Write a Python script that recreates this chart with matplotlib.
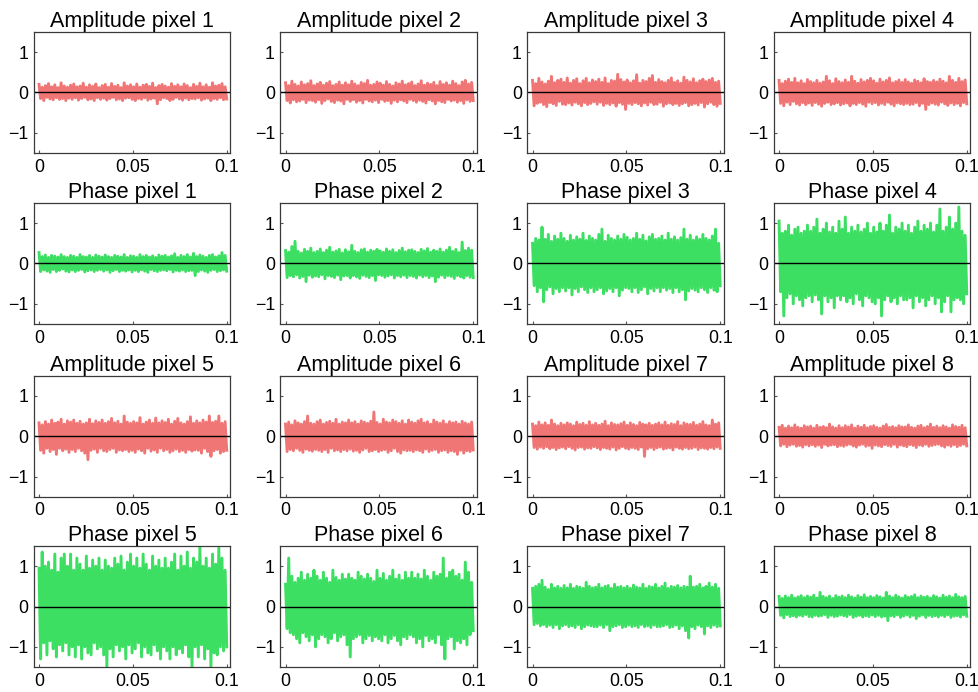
import numpy as np
import matplotlib
matplotlib.use("Agg")
import matplotlib.pyplot as plt

plt.rcParams["font.family"] = ["Liberation Sans", "DejaVu Sans"]

# peak / trough values (alternating), 0 .. 0.1 s
amp1 = [.2, -.15, .13, -.2, .17, -.12, .22, -.16, .14, -.18, .19, -.13, .12, -.17, .24, -.15, .16, -.2, .13, -.14,
        .18, -.17, .21, -.13, .14, -.19, .16, -.15, .23, -.12, .13, -.18, .19, -.16, .15, -.2, .21, -.13, .12, -.17,
        .17, -.14, .2, -.19, .13, -.15, .22, -.12, .15, -.18, .18, -.16, .12, -.2, .24, -.14, .16, -.13, .19, -.17,
        .14, -.2, .21, -.15, .13, -.17, .18, -.13, .2, -.19, .15, -.16, .23, -.14, .12, -.28, .17, -.18, .2, -.13,
        .16, -.15, .13, -.2, .22, -.17, .15, -.12, .19, -.16, .14, -.19, .21, -.14, .17, -.18, .12, -.15, .2, -.16,
        .15, -.13, .23, -.19, .14, -.16, .19, -.14, .13, -.2, .24, -.15, .16, -.17, .18, -.13, .22, -.18, .14, -.16]
amp2 = [.24, -.2, .17, -.26, .28, -.18, .2, -.23, .16, -.21, .26, -.17, .19, -.25, .22, -.19, .29, -.2, .17, -.24,
        .21, -.18, .25, -.27, .18, -.2, .23, -.16, .27, -.22, .17, -.25, .2, -.19, .26, -.21, .18, -.28, .24, -.17,
        .19, -.22, .28, -.18, .21, -.24, .17, -.2, .25, -.26, .22, -.17, .3, -.21, .18, -.23, .2, -.19, .26, -.25,
        .23, -.17, .18, -.22, .27, -.2, .2, -.27, .16, -.19, .24, -.23, .21, -.18, .28, -.21, .19, -.25, .22, -.17,
        .26, -.2, .17, -.24, .21, -.19, .29, -.22, .18, -.26, .23, -.18, .2, -.21, .25, -.28, .17, -.2, .27, -.23,
        .2, -.25, .24, -.17, .18, -.21, .28, -.19, .22, -.24, .17, -.2, .26, -.27, .3, -.18, .21, -.22, .25, -.2]
amp3 = [.3, -.33, .22, -.27, .35, -.24, .26, -.3, .21, -.35, .28, -.25, .4, -.28, .24, -.32, .3, -.22, .33, -.29,
        .25, -.3, .36, -.26, .23, -.31, .3, -.24, .34, -.28, .22, -.33, .29, -.25, .35, -.3, .24, -.27, .31, -.23,
        .27, -.29, .33, -.24, .25, -.32, .36, -.27, .22, -.3, .3, -.26, .28, -.34, .45, -.25, .32, -.29, .26, -.42,
        .31, -.27, .24, -.3, .29, -.25, .44, -.28, .23, -.33, .3, -.26, .27, -.31, .35, -.24, .42, -.3, .25, -.29,
        .32, -.24, .27, -.34, .24, -.28, .3, -.26, .36, -.3, .25, -.27, .29, -.32, .23, -.28, .38, -.25, .3, -.33,
        .26, -.3, .34, -.27, .24, -.31, .29, -.25, .33, -.36, .27, -.28, .31, -.24, .35, -.3, .25, -.34, .28, -.27]
amp4 = [.3, -.27, .22, -.33, .28, -.24, .33, -.3, .25, -.22, .35, -.28, .24, -.31, .29, -.25, .22, -.3, .32, -.26,
        .27, -.32, .24, -.25, .3, -.29, .23, -.34, .26, -.27, .4, -.24, .29, -.3, .22, -.28, .34, -.25, .27, -.31,
        .24, -.28, .31, -.26, .25, -.33, .4, -.27, .28, -.3, .23, -.25, .32, -.29, .26, -.34, .3, -.24, .35, -.28,
        .29, -.25, .23, -.31, .33, -.27, .26, -.3, .3, -.24, .36, -.29, .24, -.33, .27, -.26, .31, -.28, .25, -.3,
        .32, -.27, .26, -.3, .23, -.29, .31, -.25, .28, -.33, .24, -.27, .34, -.42, .27, -.3, .25, -.26, .3, -.29,
        .26, -.31, .33, -.24, .28, -.28, .24, -.32, .4, -.26, .3, -.3, .25, -.27, .35, -.33, .27, -.25, .31, -.28]
amp5 = [.33, -.35, .28, -.42, .36, -.3, .3, -.38, .4, -.33, .32, -.45, .35, -.3, .42, -.36, .3, -.32, .38, -.4,
        .35, -.33, .4, -.38, .32, -.3, .37, -.36, .3, -.42, .33, -.58, .42, -.35, .31, -.32, .38, -.4, .34, -.3,
        .4, -.36, .32, -.38, .36, -.33, .44, -.3, .33, -.4, .37, -.34, .3, -.36, .5, -.33, .35, -.38, .32, -.35,
        .36, -.4, .33, -.32, .46, -.36, .3, -.42, .35, -.3, .4, -.37, .32, -.34, .45, -.4, .33, -.3, .38, -.36,
        .34, -.33, .42, -.4, .3, -.36, .37, -.32, .44, -.38, .33, -.35, .3, -.4, .36, -.33, .48, -.37, .32, -.34,
        .38, -.35, .33, -.42, .4, -.3, .35, -.38, .5, -.5, .34, -.36, .37, -.33, .5, -.42, .32, -.38, .36, -.35]
amp6 = [.3, -.38, .35, -.33, .28, -.36, .38, -.3, .33, -.35, .3, -.4, .36, -.32, .5, -.35, .32, -.37, .3, -.33,
        .36, -.35, .4, -.38, .3, -.33, .34, -.4, .37, -.3, .32, -.36, .42, -.34, .3, -.38, .35, -.33, .33, -.36,
        .4, -.32, .33, -.37, .36, -.35, .3, -.4, .38, -.34, .35, -.3, .32, -.38, .37, -.36, .6, -.33, .34, -.38,
        .3, -.35, .42, -.33, .35, -.4, .33, -.36, .4, -.3, .36, -.38, .32, -.42, .38, -.34, .3, -.36, .4, -.35,
        .35, -.38, .32, -.34, .38, -.36, .42, -.4, .33, -.32, .36, -.38, .3, -.35, .4, -.33, .35, -.4, .32, -.36,
        .38, -.34, .3, -.4, .36, -.36, .33, -.38, .35, -.45, .3, -.35, .37, -.42, .33, -.36, .3, -.38, .35, -.34]
amp7 = [.3, -.28, .26, -.32, .35, -.27, .28, -.3, .33, -.26, .27, -.31, .4, -.28, .3, -.33, .26, -.29, .32, -.27,
        .28, -.31, .33, -.26, .3, -.3, .26, -.34, .35, -.28, .29, -.27, .32, -.32, .27, -.29, .36, -.3, .28, -.26,
        .32, -.29, .27, -.33, .3, -.28, .37, -.3, .26, -.32, .33, -.27, .29, -.34, .28, -.3, .31, -.26, .35, -.3,
        .27, -.32, .33, -.28, .29, -.3, .26, -.33, .34, -.27, .3, -.5, .28, -.31, .32, -.28, .27, -.33, .3, -.29,
        .33, -.27, .28, -.32, .35, -.3, .27, -.29, .31, -.34, .29, -.27, .36, -.3, .26, -.32, .33, -.28, .3, -.31,
        .29, -.3, .34, -.27, .27, -.33, .3, -.29, .36, -.3, .28, -.32, .26, -.28, .4, -.31, .3, -.27, .33, -.3]
amp8 = [.22, -.24, .27, -.2, .2, -.26, .25, -.22, .21, -.2, .28, -.25, .22, -.23, .2, -.27, .26, -.21, .23, -.24,
        .25, -.21, .2, -.25, .27, -.22, .22, -.28, .24, -.2, .21, -.24, .3, -.22, .23, -.21, .2, -.26, .26, -.23,
        .21, -.25, .26, -.22, .23, -.2, .28, -.24, .2, -.27, .25, -.22, .22, -.2, .27, -.25, .21, -.23, .24, -.3,
        .26, -.22, .22, -.24, .2, -.26, .25, -.21, .29, -.23, .22, -.25, .24, -.2, .21, -.27, .26, -.22, .23, -.24,
        .23, -.26, .28, -.21, .22, -.23, .2, -.28, .25, -.22, .27, -.24, .21, -.2, .24, -.25, .3, -.23, .22, -.21,
        .25, -.2, .21, -.24, .26, -.27, .23, -.22, .2, -.25, .28, -.21, .24, -.26, .22, -.23, .27, -.2, .21, -.24]

ph1 = [.27, -.2, .17, -.16, .21, -.19, .15, -.22, .2, -.15, .18, -.2, .16, -.17, .22, -.14, .17, -.19, .15, -.21,
       .2, -.16, .18, -.2, .15, -.17, .22, -.15, .17, -.21, .16, -.18, .2, -.16, .15, -.2, .21, -.17, .18, -.15,
       .16, -.19, .21, -.16, .17, -.22, .15, -.18, .2, -.15, .18, -.2, .16, -.17, .22, -.19, .15, -.16, .19, -.21,
       .18, -.17, .15, -.2, .22, -.16, .17, -.19, .2, -.22, .16, -.15, .19, -.18, .15, -.2, .21, -.17, .18, -.16,
       .2, -.18, .16, -.15, .19, -.21, .24, -.17, .15, -.19, .2, -.16, .17, -.2, .22, -.18, .16, -.17, .25, -.3,
       .17, -.2, .21, -.16, .18, -.19, .15, -.22, .2, -.17, .22, -.15, .16, -.2, .19, -.18, .27, -.16, .2, -.19]
ph2 = [.32, -.35, .28, -.3, .42, -.33, .55, -.28, .3, -.36, .26, -.32, .35, -.45, .3, -.29, .38, -.34, .27, -.31,
       .3, -.33, .36, -.28, .27, -.38, .33, -.3, .4, -.32, .28, -.35, .31, -.29, .35, -.4, .26, -.31, .34, -.3,
       .29, -.36, .45, -.3, .3, -.33, .27, -.37, .34, -.29, .36, -.32, .28, -.35, .33, -.3, .3, -.42, .35, -.28,
       .31, -.3, .28, -.34, .36, -.31, .3, -.28, .34, -.36, .27, -.3, .32, -.33, .38, -.29, .29, -.35, .33, -.3,
       .34, -.32, .3, -.36, .27, -.29, .35, -.33, .31, -.3, .37, -.35, .28, -.31, .33, -.45, .3, -.34, .36, -.29,
       .28, -.35, .33, -.3, .4, -.32, .3, -.37, .35, -.3, .27, -.33, .53, -.36, .32, -.3, .38, -.34, .33, -.35]
ph3 = [.5, -.55, .62, -.7, .58, -.6, .9, -.95, .6, -.65, .72, -.58, .55, -.75, .68, -.62, .6, -.7, .75, -.6,
       .62, -.68, .55, -.6, .7, -.78, .58, -.62, .66, -.7, .6, -.58, .75, -.65, .57, -.72, .68, -.6, .62, -.7,
       .58, -.65, .72, -.6, .85, -.75, .55, -.68, .7, -.62, .62, -.7, .58, -.6, .68, -.8, .6, -.66, .72, -.6,
       .65, -.62, .58, -.7, .62, -.6, .75, -.72, .6, -.65, .7, -.58, .56, -.75, .66, -.62, .72, -.68, .6, -.6,
       .62, -.7, .68, -.6, .58, -.66, .75, -.62, .6, -.72, .66, -.6, .58, -.7, .64, -.65, .85, -.9, .6, -.68,
       .7, -.62, .58, -.66, .66, -.7, .6, -.6, .72, -.65, .62, -.72, .58, -.6, .68, -.66, .85, -.7, .5, -.55]
ph4 = [1.05, -.7, .75, -1.3, .8, -.85, .95, -.75, .7, -1.0, .85, -.8, .9, -.9, .75, -1.05, .8, -.85, .95, -.8,
       .8, -.95, .9, -.78, 1.1, -.9, .75, -1.25, .85, -.8, 1.0, -.95, .78, -.85, .9, -1.1, .75, -.8, 1.05, -.9,
       .85, -.8, 1.15, -.95, .75, -.85, .9, -1.0, .8, -.75, .95, -.9, .78, -1.05, .85, -.8, 1.0, -.85, .75, -.95,
       .9, -1.0, .78, -.85, 1.0, -1.3, .8, -.9, .95, -.8, 1.2, -.95, .75, -.85, .9, -1.0, .85, -.8, 1.0, -.9,
       .8, -.9, .95, -.85, .75, -1.1, .9, -.8, 1.05, -.95, .8, -.85, .95, -1.05, .85, -.9, 1.0, -.8, .78, -1.0,
       .95, -.85, 1.35, -1.2, .8, -.95, .9, -.8, 1.15, -1.2, .85, -.9, 1.0, -.85, 1.4, -.9, .8, -1.0, .7, -.75]
ph5 = [.95, -1.3, 1.35, -.9, 1.0, -1.2, 1.1, -.85, .9, -1.05, 1.3, -1.25, .85, -.95, 1.2, -1.1, 1.3, -.9, 1.0, -1.2,
       1.3, -1.0, .9, -1.25, 1.2, -.95, 1.05, -1.3, .9, -1.0, 1.25, -1.15, .95, -1.2, 1.15, -.9, 1.0, -1.05, 1.2, -1.0,
       .9, -1.2, 1.15, -1.5, 1.0, -1.05, .95, -1.25, 1.2, -.95, 1.05, -1.1, 1.25, -1.0, .9, -1.3, 1.1, -.95, 1.3, -1.15,
       1.0, -1.05, 1.2, -.9, .95, -1.25, 1.3, -1.0, 1.05, -1.15, .9, -1.2, 1.25, -.95, 1.0, -1.1, 1.15, -1.3, .95, -1.0,
       1.2, -1.1, .95, -1.3, 1.1, -1.0, 1.3, -1.2, .9, -1.05, 1.25, -1.15, 1.0, -.95, 1.35, -1.25, .95, -1.5, 1.2, -1.0,
       1.1, -1.25, 1.5, -.95, 1.0, -1.3, 1.2, -1.05, .95, -1.5, 1.3, -1.15, 1.05, -1.2, 1.45, -1.0, 1.2, -1.1, .9, -1.0]
ph6 = [.55, -.55, 1.2, -.65, .75, -.7, .6, -.8, .7, -.9, .85, -.65, .65, -.75, .8, -.85, .7, -.7, .9, -1.0,
       .75, -.8, .65, -.7, .85, -.75, .7, -.9, .6, -.8, .9, -.65, .72, -.85, .65, -.75, .8, -.7, .68, -.95,
       .8, -1.25, .7, -.8, .65, -.75, .85, -.7, .75, -.9, .68, -.8, .8, -.72, .7, -.85, .62, -.75, .9, -.8,
       .7, -.85, .82, -.7, .65, -.9, .75, -.8, .9, -.72, .68, -.85, .78, -.95, .65, -.75, .85, -.8, .7, -.7,
       .85, -.75, .7, -.9, .8, -.8, .68, -1.0, .9, -.72, .75, -.85, .65, -.8, .85, -.9, .75, -.7, .8, -.95,
       1.2, -1.3, .7, -.8, .85, -.75, .9, -1.05, .75, -.85, .8, -.9, .65, -.8, 1.1, -.95, .85, -.7, .6, -.6]
ph7 = [.45, -.45, .5, -.42, .55, -.48, .65, -.45, .48, -.5, .42, -.46, .55, -.52, .46, -.45, .5, -.55, .45, -.48,
       .52, -.45, .46, -.5, .55, -.48, .45, -.52, .5, -.45, .48, -.55, .45, -.5, .6, -.46, .5, -.48, .46, -.5,
       .48, -.5, .55, -.46, .46, -.52, .5, -.45, .52, -.6, .45, -.5, .55, -.48, .48, -.45, .5, -.52, .46, -.5,
       .5, -.46, .45, -.5, .53, -.48, .48, -.52, .46, -.45, .55, -.5, .45, -.48, .5, -.52, .48, -.46, .55, -.5,
       .46, -.5, .5, -.48, .58, -.45, .45, -.52, .5, -.5, .48, -.46, .52, -.55, .46, -.48, .5, -.6, .48, -.78,
       .75, -.5, .48, -.55, .5, -.46, .55, -.5, .46, -.68, .5, -.48, .58, -.52, .48, -.46, .55, -.5, .45, -.48]
ph8 = [.25, -.22, .2, -.28, .26, -.2, .22, -.25, .28, -.23, .21, -.26, .24, -.22, .27, -.24, .22, -.2, .26, -.25,
       .23, -.26, .28, -.22, .21, -.24, .35, -.23, .25, -.2, .22, -.27, .26, -.22, .2, -.25, .27, -.24, .23, -.21,
       .26, -.23, .22, -.25, .28, -.2, .24, -.27, .21, -.24, .27, -.22, .23, -.26, .29, -.23, .22, -.25, .25, -.21,
       .22, -.25, .27, -.22, .24, -.26, .21, -.24, .35, -.35, .26, -.23, .22, -.25, .28, -.21, .24, -.27, .21, -.24,
       .27, -.21, .23, -.26, .25, -.22, .29, -.3, .22, -.24, .26, -.21, .23, -.27, .25, -.22, .21, -.25, .27, -.23,
       .24, -.26, .21, -.22, .28, -.25, .23, -.21, .26, -.27, .22, -.24, .3, -.23, .24, -.26, .22, -.21, .25, -.24]

t_end = 0.1  # seconds
amp_traces = [amp1, amp2, amp3, amp4, amp5, amp6, amp7, amp8]
phase_traces = [ph1, ph2, ph3, ph4, ph5, ph6, ph7, ph8]

RED = "#f07676"
GREEN = "#3ddf62"

fig = plt.figure(figsize=(9.79, 6.92), dpi=100)
lefts = [0.0347, 0.2865, 0.5388, 0.7906]
bottoms = [0.7789, 0.5318, 0.2822, 0.0361]
w, h = 0.2007, 0.1749


def draw(ax, vals, color, title):
    t = np.linspace(0, t_end, len(vals))
    ax.plot(t, vals, color=color, lw=2.1)
    ax.axhline(0, color="black", lw=1.0)
    ax.set_xlim(-0.0027, 0.102)
    ax.set_ylim(-1.5, 1.5)
    ax.set_xticks([0, 0.05, 0.1])
    ax.set_xticklabels(["0", "0.05", "0.1"])
    ax.set_yticks([-1, 0, 1])
    ax.tick_params(direction="in", length=2.5, width=0.8, labelsize=12.8,
                   color="#555555", pad=4)
    for s in ax.spines.values():
        s.set_color("#3a3a3a")
        s.set_linewidth(0.9)
    ax.set_title(title, fontsize=15.5, pad=3)


for row in range(4):
    for col in range(4):
        ax = fig.add_axes([lefts[col], bottoms[row], w, h])
        k = (row // 2) * 4 + col
        if row % 2 == 0:
            draw(ax, amp_traces[k], RED, f"Amplitude pixel {k + 1}")
        else:
            draw(ax, phase_traces[k], GREEN, f"Phase pixel {k + 1}")

fig.savefig("out.png", dpi=100)
